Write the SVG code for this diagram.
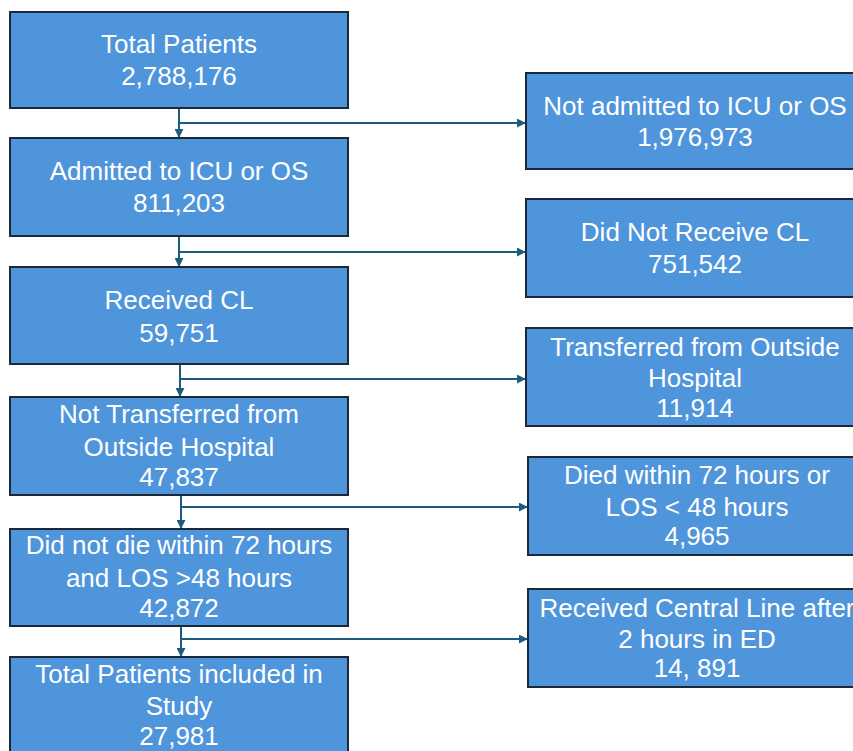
<svg xmlns="http://www.w3.org/2000/svg" width="853" height="751" viewBox="0 0 853 751">
  <style>
    .box { fill: #4f95dc; stroke: #1b2838; stroke-width: 2; }
    .lbl { font-family: "Liberation Sans", Arial, sans-serif; font-size: 26px; fill: #ffffff; text-anchor: middle; }
    .conn { stroke: #1d5c7d; stroke-width: 2; fill: none; }
  </style>
  <defs>
    <marker id="arrh" viewBox="0 0 10 10" refX="9" refY="5" markerWidth="9" markerHeight="9" orient="auto" markerUnits="userSpaceOnUse">
      <path d="M0,0 L10,5 L0,10 z" fill="#1d5c7d"/>
    </marker>
  </defs>
  <rect width="853" height="751" fill="#ffffff"/>

  <g id="connectors">
    <line class="conn" x1="179" y1="109" x2="179" y2="137" marker-end="url(#arrh)"/>
    <line class="conn" x1="179" y1="123" x2="525" y2="123" marker-end="url(#arrh)"/>
    <line class="conn" x1="179" y1="237" x2="179" y2="266" marker-end="url(#arrh)"/>
    <line class="conn" x1="179" y1="252" x2="525" y2="252" marker-end="url(#arrh)"/>
    <line class="conn" x1="180" y1="365" x2="180" y2="396" marker-end="url(#arrh)"/>
    <line class="conn" x1="180" y1="379" x2="525" y2="379" marker-end="url(#arrh)"/>
    <line class="conn" x1="181" y1="496" x2="181" y2="528" marker-end="url(#arrh)"/>
    <line class="conn" x1="181" y1="507" x2="527" y2="507" marker-end="url(#arrh)"/>
    <line class="conn" x1="181" y1="627" x2="181" y2="656" marker-end="url(#arrh)"/>
    <line class="conn" x1="181" y1="639" x2="527" y2="639" marker-end="url(#arrh)"/>
  </g>

  <g id="n1">
    <rect class="box" x="10" y="12" width="338" height="96"/>
    <text class="lbl" x="179" y="53">Total Patients</text>
    <text class="lbl" x="179" y="85">2,788,176</text>
  </g>
  <g id="n2">
    <rect class="box" x="10" y="138" width="338" height="98"/>
    <text class="lbl" x="179" y="180">Admitted to ICU or OS</text>
    <text class="lbl" x="179" y="212">811,203</text>
  </g>
  <g id="n3">
    <rect class="box" x="10" y="267" width="338" height="97"/>
    <text class="lbl" x="179" y="309">Received CL</text>
    <text class="lbl" x="179" y="342">59,751</text>
  </g>
  <g id="n4">
    <rect class="box" x="10" y="397" width="338" height="98"/>
    <text class="lbl" x="179" y="423">Not Transferred from</text>
    <text class="lbl" x="179" y="456">Outside Hospital</text>
    <text class="lbl" x="179" y="486">47,837</text>
  </g>
  <g id="n5">
    <rect class="box" x="10" y="529" width="338" height="97"/>
    <text class="lbl" x="179" y="554">Did not die within 72 hours</text>
    <text class="lbl" x="179" y="587">and LOS &gt;48 hours</text>
    <text class="lbl" x="179" y="617">42,872</text>
  </g>
  <g id="n6">
    <rect class="box" x="10" y="657" width="338" height="110"/>
    <text class="lbl" x="179" y="683">Total Patients included in</text>
    <text class="lbl" x="179" y="715">Study</text>
    <text class="lbl" x="179" y="745">27,981</text>
  </g>

  <g id="r1">
    <rect class="box" x="526" y="73" width="340" height="96"/>
    <text class="lbl" x="695" y="115">Not admitted to ICU or OS</text>
    <text class="lbl" x="695" y="146">1,976,973</text>
  </g>
  <g id="r2">
    <rect class="box" x="526" y="199" width="340" height="98"/>
    <text class="lbl" x="695" y="241">Did Not Receive CL</text>
    <text class="lbl" x="695" y="273">751,542</text>
  </g>
  <g id="r3">
    <rect class="box" x="526" y="328" width="340" height="98"/>
    <text class="lbl" x="695" y="356">Transferred from Outside</text>
    <text class="lbl" x="695" y="387">Hospital</text>
    <text class="lbl" x="695" y="417">11,914</text>
  </g>
  <g id="r4">
    <rect class="box" x="528" y="457" width="340" height="98"/>
    <text class="lbl" x="697" y="484">Died within 72 hours or</text>
    <text class="lbl" x="697" y="516">LOS &lt; 48 hours</text>
    <text class="lbl" x="697" y="545">4,965</text>
  </g>
  <g id="r5">
    <rect class="box" x="528" y="589" width="340" height="98"/>
    <text class="lbl" x="697" y="617">Received Central Line after</text>
    <text class="lbl" x="697" y="648">2 hours in ED</text>
    <text class="lbl" x="697" y="677">14, 891</text>
  </g>
</svg>
